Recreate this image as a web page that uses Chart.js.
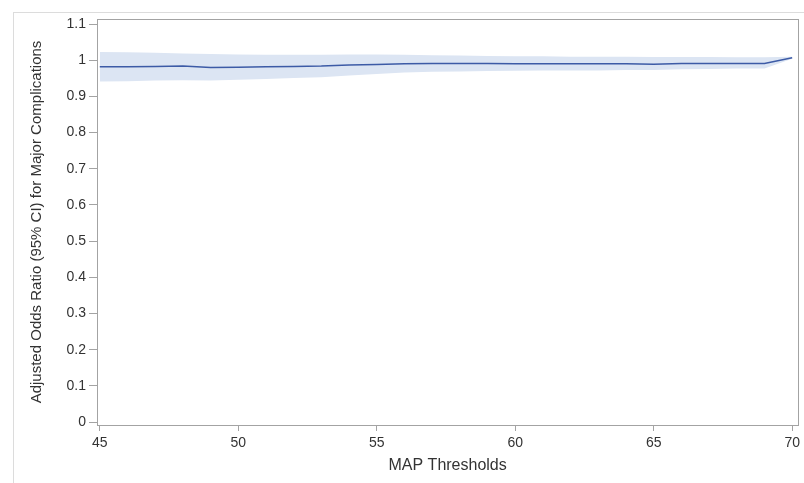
<!DOCTYPE html>
<html lang="en">
<head>
    <meta charset="UTF-8">
    <title>Adjusted Odds Ratio by MAP Threshold</title>
    <script src="https://cdn.jsdelivr.net/npm/chart.js"></script>
    <style>
        * { box-sizing: border-box; margin: 0; padding: 0; }
        body { background: #fff; width: 804px; height: 483px; overflow: hidden; position: relative; }
        .frame { position: absolute; left: 13px; top: 12px; width: 800px; height: 480px; border-top: 1px solid #dcdcdc; border-left: 1px solid #dcdcdc; }
        .chart-box { position: absolute; left: 0; top: 0; width: 804px; height: 483px; }
    </style>
</head>
<body>
    <div class="frame"></div>
    <div class="chart-box">
        <canvas id="orChart"></canvas>
    </div>

    <script>
        // MAP thresholds (x) and adjusted odds ratio with 95% CI
        const thresholds = [45, 46, 47, 48, 49, 50, 51, 52, 53, 54, 55, 56, 57, 58, 59, 60, 61, 62, 63, 64, 65, 66, 67, 68, 69, 70];
        const oddsRatio = [0.982, 0.982, 0.983, 0.984, 0.980, 0.981, 0.982, 0.983, 0.984, 0.987, 0.988, 0.990, 0.991, 0.991, 0.991, 0.990, 0.990, 0.990, 0.990, 0.990, 0.989, 0.991, 0.991, 0.991, 0.991, 1.007];
        const upperCI = [1.023, 1.022, 1.021, 1.019, 1.017, 1.016, 1.015, 1.015, 1.015, 1.016, 1.016, 1.015, 1.014, 1.013, 1.012, 1.011, 1.011, 1.010, 1.010, 1.010, 1.009, 1.009, 1.009, 1.008, 1.008, 1.010];
        const lowerCI = [0.941, 0.942, 0.944, 0.945, 0.944, 0.946, 0.948, 0.951, 0.953, 0.958, 0.962, 0.966, 0.968, 0.969, 0.970, 0.971, 0.972, 0.972, 0.972, 0.973, 0.973, 0.975, 0.976, 0.977, 0.977, 1.004];

        const xTicks = [45, 50, 55, 60, 65, 70];
        const yTicks = [0, 0.1, 0.2, 0.3, 0.4, 0.5, 0.6, 0.7, 0.8, 0.9, 1, 1.1];

        const toPoints = arr => arr.map((v, i) => ({ x: thresholds[i], y: v }));

        const axisGray = '#a3a3a3';
        const textColor = '#333333';

        // draw the box round the plot area
        const plotFrame = {
            id: 'plotFrame',
            afterDraw(chart) {
                const { ctx, chartArea: a } = chart;
                ctx.save();
                ctx.strokeStyle = axisGray;
                ctx.lineWidth = 1;
                ctx.strokeRect(Math.round(a.left) + 0.5, Math.round(a.top) + 0.5, Math.round(a.right - a.left), Math.round(a.bottom - a.top));
                ctx.restore();
            }
        };

        const ctx = document.getElementById('orChart').getContext('2d');
        new Chart(ctx, {
            type: 'line',
            data: {
                datasets: [
                    {
                        label: 'Upper CI',
                        data: toPoints(upperCI),
                        borderWidth: 0,
                        borderColor: 'rgba(0,0,0,0)',
                        backgroundColor: '#dce5f3',
                        pointRadius: 0,
                        fill: '+1',
                        order: 2
                    },
                    {
                        label: 'Lower CI',
                        data: toPoints(lowerCI),
                        borderWidth: 0,
                        borderColor: 'rgba(0,0,0,0)',
                        pointRadius: 0,
                        fill: false,
                        order: 2
                    },
                    {
                        label: 'Odds Ratio',
                        data: toPoints(oddsRatio),
                        borderColor: '#3d5ba6',
                        borderWidth: 1.5,
                        pointRadius: 0,
                        fill: false,
                        order: 1
                    }
                ]
            },
            options: {
                responsive: true,
                maintainAspectRatio: false,
                animation: false,
                layout: { padding: { left: 24, top: 19, right: 3, bottom: 4 } },
                plugins: {
                    legend: { display: false },
                    tooltip: { enabled: false }
                },
                scales: {
                    x: {
                        type: 'linear',
                        min: 44.9,
                        max: 70.22,
                        afterBuildTicks: s => { s.ticks = xTicks.map(v => ({ value: v })); },
                        afterFit: s => { s.height = 54; },
                        grid: { drawOnChartArea: false, tickLength: 6, color: axisGray },
                        border: { color: axisGray },
                        ticks: { color: textColor, padding: 4, maxRotation: 0, font: { family: 'Liberation Sans', size: 14 } },
                        title: { display: true, text: 'MAP Thresholds', color: textColor, font: { family: 'Liberation Sans', size: 16 } }
                    },
                    y: {
                        min: -0.008,
                        max: 1.114,
                        afterBuildTicks: s => { s.ticks = yTicks.map(v => ({ value: v })); },
                        afterFit: s => { s.width = 73; },
                        grid: { drawOnChartArea: false, tickLength: 8, color: axisGray },
                        border: { color: axisGray },
                        ticks: {
                            color: textColor,
                            padding: 3,
                            font: { family: 'Liberation Sans', size: 14 },
                            callback: v => String(Math.round(v * 10) / 10)
                        },
                        title: { display: true, text: 'Adjusted Odds Ratio (95% CI) for Major Complications', color: textColor, font: { family: 'Liberation Sans', size: 15 } }
                    }
                }
            },
            plugins: [plotFrame]
        });
    </script>
</body>
</html>
